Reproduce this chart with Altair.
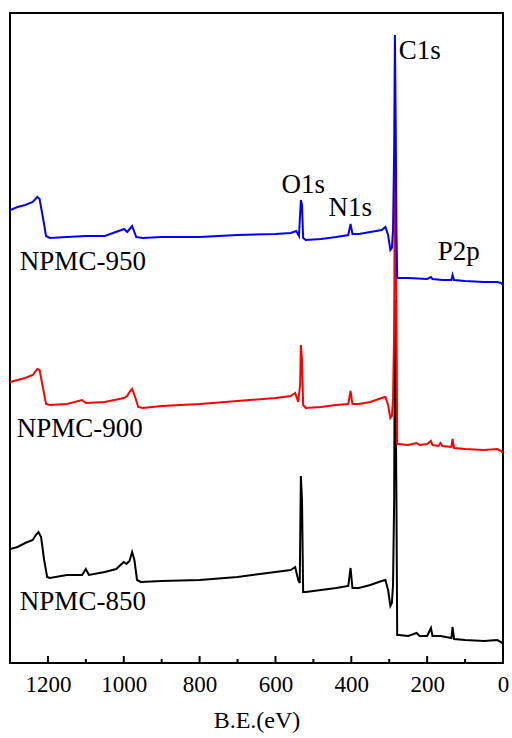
import altair as alt
import pandas as pd

# ---- spectra (binding energy in eV, intensity in arbitrary units) ----
be_850 = [1300, 1280, 1260, 1240, 1232, 1225, 1218, 1210, 1202, 1195,
          1150, 1110, 1100, 1092, 1050, 1020, 1000, 993, 985, 978,
          972, 965, 955, 900, 800, 700, 600, 560, 548, 540,
          536, 533, 530, 527, 520, 480, 440, 408, 402, 397,
          380, 350, 320, 310, 303, 297, 293, 290, 287, 285,
          283, 281, 279, 275, 250, 228, 220, 200, 190, 186,
          165, 136, 133, 129, 100, 50, 15, 5, 0]
int_850 = [114, 116, 120, 123, 128, 131, 126, 103, 86, 85,
           88, 88, 94, 88, 91, 94, 101, 99, 102, 111,
           103, 83, 81, 82, 83, 86, 91, 93, 96, 83,
           80, 187, 163, 71, 71, 73, 75, 77, 95, 75,
           75, 78, 82, 83, 73, 57, 60, 78, 163, 363,
           263, 163, 28, 28, 27, 30, 27, 27, 35, 27,
           27, 25, 36, 24, 23, 22, 23, 21, 19]

be_900 = [1300, 1280, 1260, 1240, 1228, 1222, 1212, 1205, 1195, 1150,
          1110, 1100, 1050, 1000, 991, 985, 978, 970, 962, 950,
          900, 800, 700, 600, 560, 548, 540, 535, 533, 530,
          527, 520, 480, 440, 408, 402, 397, 380, 350, 320,
          310, 303, 297, 293, 290, 287, 285, 283, 281, 279,
          275, 250, 228, 220, 200, 190, 186, 170, 165, 160,
          136, 133, 129, 100, 50, 15, 5, 0]
int_900 = [281, 283, 285, 288, 294, 293, 273, 259, 258, 259,
           263, 260, 261, 265, 267, 271, 274, 266, 256, 255,
           257, 259, 262, 265, 267, 270, 261, 278, 318, 303,
           258, 255, 256, 258, 259, 272, 259, 259, 261, 265,
           266, 258, 245, 247, 263, 333, 513, 463, 363, 219,
           219, 218, 220, 218, 219, 222, 218, 217, 220, 217,
           216, 224, 215, 214, 213, 214, 212, 210]

be_950 = [1300, 1280, 1260, 1240, 1228, 1222, 1212, 1205, 1195, 1150,
          1100, 1050, 999, 991, 978, 967, 950, 900, 800, 700,
          600, 560, 545, 538, 533, 530, 527, 520, 480, 440,
          408, 402, 397, 380, 350, 320, 310, 303, 297, 293,
          290, 287, 285, 283, 281, 279, 275, 250, 200, 190,
          186, 160, 136, 133, 129, 100, 50, 15, 5, 0]
int_950 = [453, 456, 458, 461, 466, 464, 443, 427, 425, 426,
           427, 427, 434, 431, 437, 426, 425, 426, 426, 428,
           429, 430, 432, 427, 463, 458, 425, 423, 424, 426,
           428, 439, 429, 429, 431, 433, 436, 428, 413, 415,
           433, 513, 628, 543, 435, 385, 385, 385, 384, 386,
           384, 383, 383, 388, 383, 382, 381, 381, 380, 378]

# ---- annotations ----
label_text = ["C1s", "O1s", "N1s", "P2p", "NPMC-950", "NPMC-900", "NPMC-850"]
label_be = [275, 584, 460, 172, 1274, 1282, 1274]
label_int = [604, 470, 447, 403, 393, 226, 53]

# ---- axis ticks ----
major_ticks = [1200, 1000, 800, 600, 400, 200, 0]
minor_ticks = [1100, 900, 700, 500, 300, 100]

FONT = "Liberation Serif"

x_scale = alt.Scale(domain=[0, 1300], reverse=True, nice=False, zero=False)
y_scale = alt.Scale(domain=[0, 650], nice=False, zero=False)

x_enc = alt.X(
    "be:Q", scale=x_scale,
    axis=alt.Axis(
        title="B.E.(eV)", values=major_ticks, format="d", grid=False,
        domain=False, ticks=False, tickSize=0,
        labelFont=FONT, labelFontSize=23, labelColor="black", labelPadding=10,
        labelFlush=False, labelOverlap=False,
        titleFont=FONT, titleFontSize=24, titleFontWeight="normal",
        titleColor="black", titlePadding=12,
    ),
)
y_enc = alt.Y("inten:Q", scale=y_scale, axis=None)


def spectrum(be, inten, color):
    df = pd.DataFrame({"be": be, "inten": inten})
    return alt.Chart(df).mark_line(color=color, strokeWidth=2, clip=True).encode(
        x=x_enc, y=y_enc, order="idx:Q"
    ).transform_window(idx="row_number()")


l850 = spectrum(be_850, int_850, "#000000")
l900 = spectrum(be_900, int_900, "#ff0000")
l950 = spectrum(be_950, int_950, "#0000ff")

maj = alt.Chart(pd.DataFrame({"be": major_ticks})).mark_rule(
    color="black", strokeWidth=2
).encode(x=alt.X("be:Q", scale=x_scale), y=alt.datum(0), y2=alt.datum(7))

mnr = alt.Chart(pd.DataFrame({"be": minor_ticks})).mark_rule(
    color="black", strokeWidth=2
).encode(x=alt.X("be:Q", scale=x_scale), y=alt.datum(0), y2=alt.datum(4))

labels = alt.Chart(pd.DataFrame({"be": label_be, "inten": label_int, "t": label_text})).mark_text(
    align="left", baseline="alphabetic", font=FONT, fontSize=27, color="black"
).encode(x=alt.X("be:Q", scale=x_scale), y=alt.Y("inten:Q", scale=y_scale), text="t:N")

chart = alt.layer(l850, l900, l950, maj, mnr, labels).properties(
    width=493, height=650,
    autosize=alt.AutoSizeParams(type="none"),
    padding={"left": 10, "top": 13, "right": 9, "bottom": 75},
    background="white",
).configure_view(stroke="black", strokeWidth=2)

chart.save("out.html", embed_options={"renderer": "svg", "actions": False})
